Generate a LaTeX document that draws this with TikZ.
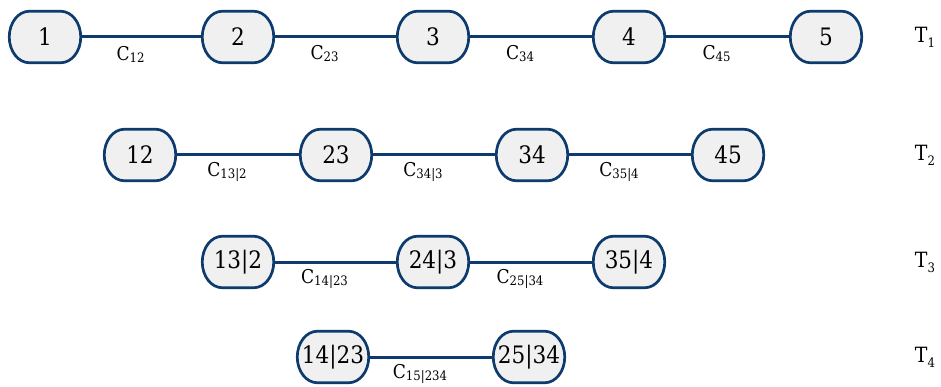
\documentclass[tikz,border=0pt]{standalone}
\usepackage{fontspec}
\setmainfont{DejaVu Serif Condensed}
\usetikzlibrary{backgrounds}
\definecolor{edgeblue}{HTML}{0D3B6E}
\definecolor{nodegray}{HTML}{F0F0F0}
\newcommand{\tsub}[1]{\raisebox{-0.45ex}{\fontsize{13}{15}\selectfont #1}}
\newcommand{\csub}[1]{\raisebox{-0.2ex}{\fontsize{13}{15}\selectfont #1}}
% a state node: rectangle anchors, drawn as a pill with half-elliptic ends
% (end half-width 20pt, half-height 25.75pt; Bezier factor 0.5523)
\newcommand{\pillnode}[3]{%
  \node[state] (#1) at (#2) {#3};
  \begin{scope}[on background layer]
    \filldraw[pill] ([xshift=20pt]#1.north west) -- ([xshift=-20pt]#1.north east)
      .. controls ([xshift=-8.95pt]#1.north east) and ([yshift=14.22pt]#1.east) .. (#1.east)
      .. controls ([yshift=-14.22pt]#1.east) and ([xshift=-8.95pt]#1.south east) .. ([xshift=-20pt]#1.south east)
      -- ([xshift=20pt]#1.south west)
      .. controls ([xshift=8.95pt]#1.south west) and ([yshift=-14.22pt]#1.west) .. (#1.west)
      .. controls ([yshift=14.22pt]#1.west) and ([xshift=8.95pt]#1.north west) .. cycle;
  \end{scope}}
\begin{document}
\begin{tikzpicture}[x=1pt,y=-1pt,
  state/.style={rectangle, minimum width=71.5pt, minimum height=51.5pt, inner sep=0pt,
    outer sep=0pt, font=\fontsize{24}{28}\selectfont},
  pill/.style={draw=edgeblue, line width=2.7pt, fill=nodegray},
  link/.style={draw=edgeblue, line width=3pt},
  clabel/.style={font=\fontsize{19}{22}\selectfont, inner sep=0pt, xshift=-11pt, yshift=-17pt},
  tlabel/.style={font=\fontsize{21}{24}\selectfont, inner sep=0pt}]
\useasboundingbox (0,0) rectangle (941,387);

% tree T1
\pillnode{n1}{45,37}{1}
\pillnode{n2}{238,37}{2}
\pillnode{n3}{433,37}{3}
\pillnode{n4}{629,37}{4}
\pillnode{n5}{826,37}{5}
\draw[link] (n1) -- node[clabel] {C\csub{12}} (n2);
\draw[link] (n2) -- node[clabel] {C\csub{23}} (n3);
\draw[link] (n3) -- node[clabel] {C\csub{34}} (n4);
\draw[link] (n4) -- node[clabel] {C\csub{45}} (n5);
\node[tlabel] (t1) at (925,37) {T\tsub{1}};

% tree T2
\pillnode{m1}{140,155}{12}
\pillnode{m2}{336,155}{23}
\pillnode{m3}{532,155}{34}
\pillnode{m4}{728,155}{45}
\draw[link] (m1) -- node[clabel] {C\csub{13|2}} (m2);
\draw[link] (m2) -- node[clabel] {C\csub{34|3}} (m3);
\draw[link] (m3) -- node[clabel] {C\csub{35|4}} (m4);
\node[tlabel] (t2) at (925,155) {T\tsub{2}};

% tree T3
\pillnode{k1}{238,262}{13|2}
\pillnode{k2}{433,262}{24|3}
\pillnode{k3}{629,262}{35|4}
\draw[link] (k1) -- node[clabel] {C\csub{14|23}} (k2);
\draw[link] (k2) -- node[clabel] {C\csub{25|34}} (k3);
\node[tlabel] (t3) at (925,262) {T\tsub{3}};

% tree T4
\pillnode{j1}{333,357}{14|23}
\pillnode{j2}{529,357}{25|34}
\draw[link] (j1) -- node[clabel] {C\csub{15|234}} (j2);
\node[tlabel] (t4) at (925,357) {T\tsub{4}};
\end{tikzpicture}
\end{document}
